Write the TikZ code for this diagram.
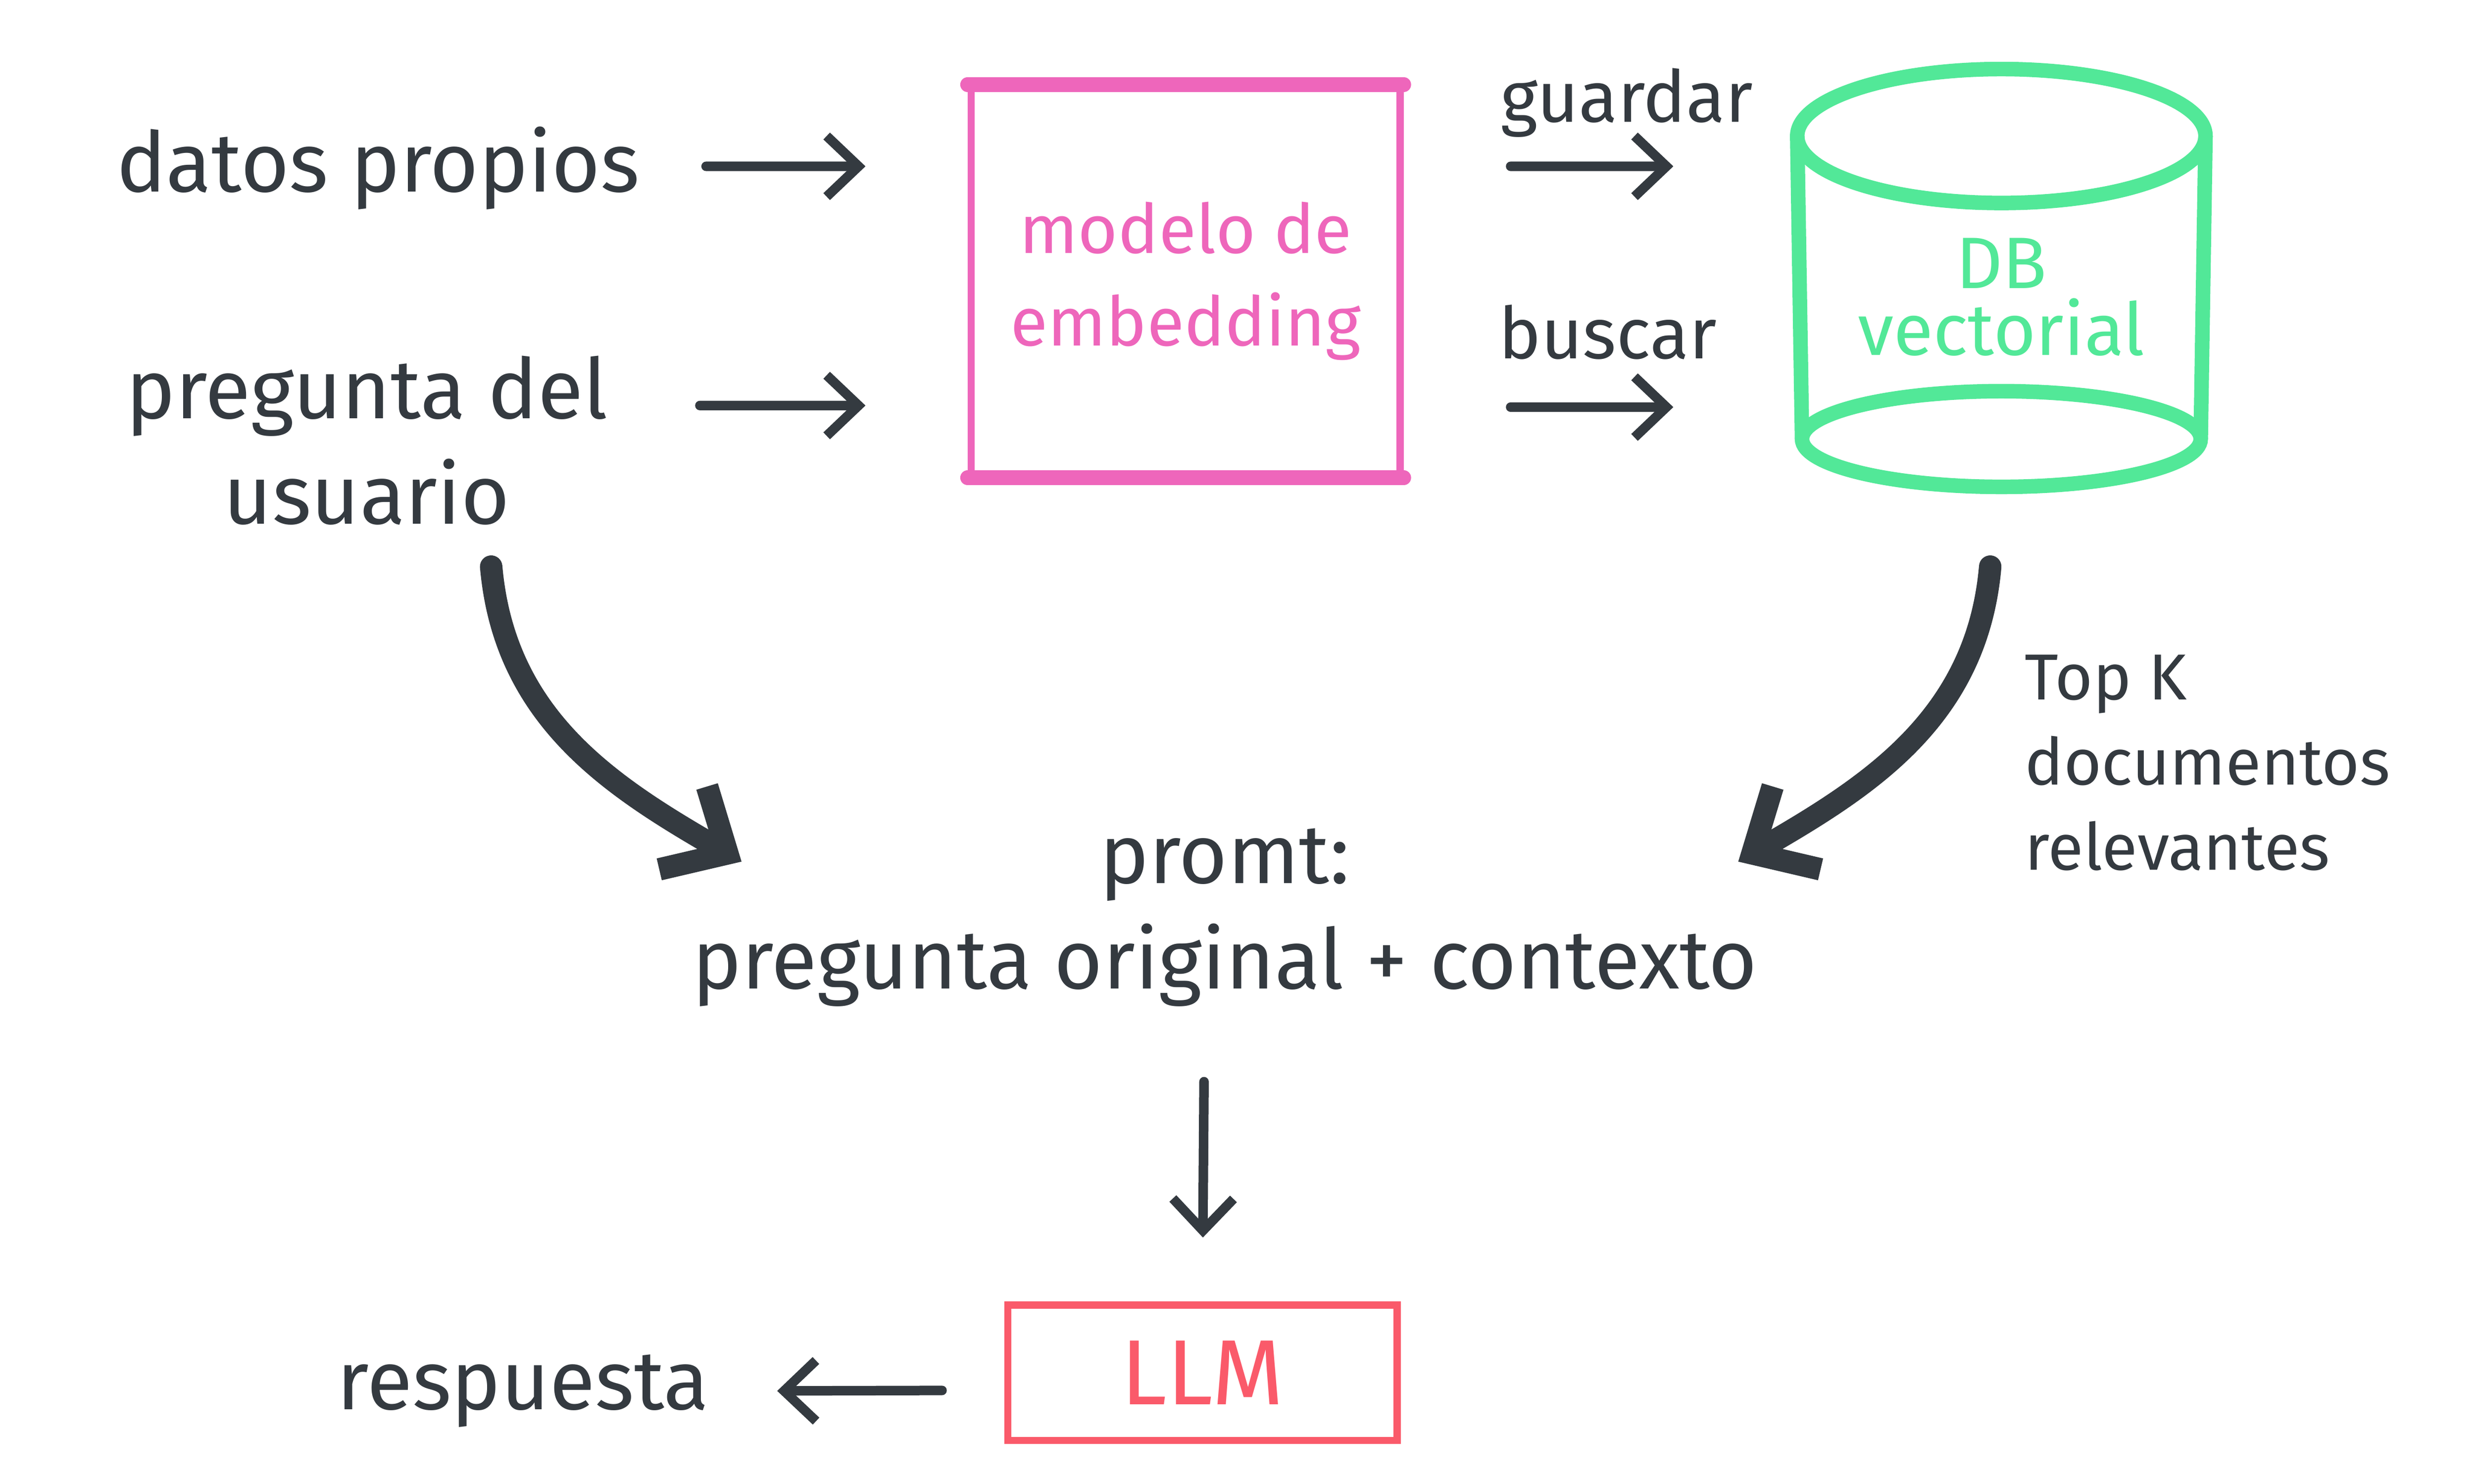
\documentclass[tikz,border=0pt]{standalone}
\usepackage{fontspec}
\setmainfont{Fira Sans}
\usetikzlibrary{arrows.meta}
\definecolor{ink}{HTML}{343A40}
\definecolor{rosa}{HTML}{EE66BB}
\definecolor{verde}{HTML}{52E898}
\definecolor{rojo}{HTML}{FA5A6A}
\begin{document}
\begin{tikzpicture}[
    every node/.style={text=ink, inner sep=2pt},
    big/.style={font=\fontsize{14.9}{18.8}\selectfont, align=center},
    small/.style={font=\fontsize{12.8}{15.2}\selectfont, align=left},
    tiny/.style={font=\fontsize{11.6}{15.2}\selectfont, align=left},
    box/.style={draw=rosa, text=rosa, line width=1.3pt, minimum width=2.69cm, minimum height=2.42cm, align=center, font=\fontsize{12.2}{16.5}\selectfont},
    llmbox/.style={draw=rojo, text=rojo, line width=1.3pt, minimum width=2.44cm, minimum height=0.85cm, font=\fontsize{16.5}{18}\selectfont},
    dbtext/.style={text=verde, minimum width=2.6cm, align=center, font=\fontsize{13}{12}\selectfont},
    flecha/.style={ink, line width=1.7pt, line cap=round, -{Straight Barb[length=2mm,width=3.8mm]}},
    curva/.style={ink, line width=4pt, line cap=round, -{Straight Barb[length=3.2mm,width=6mm]}},
  ]
  \useasboundingbox (0,0) rectangle (15.52,9.303);
  \draw
    (2.37,8.25) node[big] (datos){datos propios}
    (2.30,6.54) node[big] (preg){pregunta del\\usuario}
    (7.435,7.54) node[box] (embed){modelo de\\embedding}
    (10.20,8.66) node[small] (guardar){guardar}
    (10.08,7.22) node[small] (buscar){buscar}
    (12.55,7.44) node[dbtext] (db){DB\\vectorial}
    (12.62,4.52) node[tiny, anchor=west] (topk){Top K\\documentos\\relevantes}
    (7.68,3.55) node[big] (prompt){promt:\\pregunta original + contexto}
    (7.54,0.695) node[llmbox] (llm){LLM}
    (3.28,0.58) node[big] (resp){respuesta};
  \draw[rosa, line width=2.6pt, line cap=round]
    (embed.north west) -- (embed.north east)
    (embed.south west) -- (embed.south east);
  \begin{scope}[verde, line width=2.6pt]
    \draw (12.55,8.45) ellipse (1.28 and 0.42);
    \draw (12.55,6.55) ellipse (1.25 and 0.30);
    \draw (11.27,8.45) -- (11.30,6.55);
    \draw (13.83,8.45) -- (13.80,6.55);
  \end{scope}
  \begin{scope}[flecha]
    \draw[shorten <=3.4mm, shorten >=6.4mm] ([yshift=0.1mm]datos.east) to ([yshift=7.2mm]embed.west);
    \draw[shorten <=5mm, shorten >=6.4mm] ([yshift=2.2mm]preg.east) to ([yshift=-7.8mm]embed.west);
    \draw[shorten <=6.7mm, shorten >=7.5mm] ([yshift=7.2mm]embed.east) to ([yshift=8.2mm]db.west);
    \draw[shorten <=6.7mm, shorten >=7.5mm] ([yshift=-7.9mm]embed.east) to ([yshift=-6.9mm]db.west);
    \draw[shorten >=4mm] ([xshift=-1.3mm,yshift=-10.3mm]prompt.center) to (llm.north);
    \draw[shorten <=3.9mm, shorten >=3.5mm] ([yshift=-1.1mm]llm.west) to (resp.east);
  \end{scope}
  \begin{scope}[curva]
    \draw ([xshift=7.8mm,yshift=-7.9mm]preg.center) to[out=-85,in=150] ([xshift=-30.3mm,yshift=3.5mm]prompt.center);
    \draw ([xshift=-0.7mm,yshift=-16.9mm]db.center) to[out=-95,in=30] ([xshift=32.2mm,yshift=3.5mm]prompt.center);
  \end{scope}
\end{tikzpicture}
\end{document}
